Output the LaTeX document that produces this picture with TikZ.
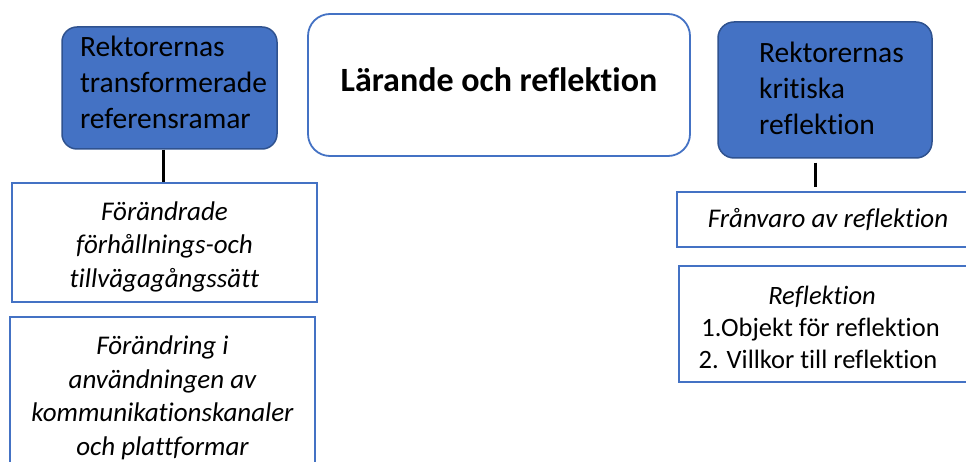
\documentclass[tikz,border=0pt]{standalone}
\usepackage{fontspec}
\setmainfont{Carlito}[Ligatures={NoCommon}]
\definecolor{accent}{HTML}{4472C4}
\definecolor{accentdark}{HTML}{2F528F}
\begin{document}
\begin{tikzpicture}[x=1pt,y=-1pt,
  bluebox/.style={draw=accentdark, fill=accent, line width=1.5pt, rounded corners=15pt,
    align=left, inner sep=0pt, font=\fontsize{29.5}{36}\selectfont},
  whitebox/.style={draw=accent, fill=white, line width=1.8pt, rounded corners=22pt, inner sep=0pt},
  itembox/.style={draw=accent, fill=white, line width=1.8pt, align=center, inner sep=0pt,
    font=\itshape\fontsize{27}{33.5}\selectfont},
  conn/.style={draw=black, line width=3pt}]
\useasboundingbox (0,0) rectangle (966,462);
\clip (0,0) rectangle (966,462);
% top row
\node[bluebox, minimum width=215pt, minimum height=122pt] (tr) at (169.5,88)
  {\hspace*{8pt}Rektorernas\\\hspace*{8pt}transformerade\\\hspace*{8pt}referensramar\rule[-11.5pt]{0pt}{0pt}};
\node[whitebox, minimum width=382pt, minimum height=142pt,
  font=\bfseries\fontsize{34}{41}\selectfont, text height=23pt, text depth=10pt] (lr) at (499,85)
  {Lärande och reflektion};
\node[bluebox, rounded corners=16pt, minimum width=214pt, minimum height=136pt] (kr) at (825,90)
  {\hspace*{13pt}Rektorernas\\\hspace*{13pt}kritiska\\\hspace*{13pt}reflektion\rule[-4pt]{0pt}{0pt}};
% left column
\node[itembox, minimum width=305pt, minimum height=119pt] (b1) at (164.5,242.5)
  {\rule{0pt}{27pt}Förändrade\\förhållnings-och\\tillvägagångssätt};
\node[itembox, minimum width=305pt, anchor=north, inner ysep=19pt] (b2) at (162.5,316)
  {Förändring i\\användningen av\\kommunikationskanaler\\och plattformar};
% right column
\node[itembox, minimum width=302pt, minimum height=55pt] (fr) at (828,219.5)
  {Frånvaro av reflektion};
\node[itembox, minimum width=296pt, minimum height=116pt, font=\fontsize{26.5}{32}\selectfont] (rf) at (827,324)
  {\rule{0pt}{25pt}\itshape Reflektion\hspace*{10pt}\\\hspace*{-13pt}1.Objekt för reflektion\\2. Villkor till reflektion\hspace*{18pt}};
% connectors
\coordinate (cl) at (163,0);
\coordinate (cr) at (815,0);
\draw[conn] (tr.south -| cl) -- (b1.north -| cl);
\draw[conn, shorten <=4pt, shorten >=4pt] (kr.south -| cr) -- (fr.north -| cr);
\end{tikzpicture}
\end{document}
